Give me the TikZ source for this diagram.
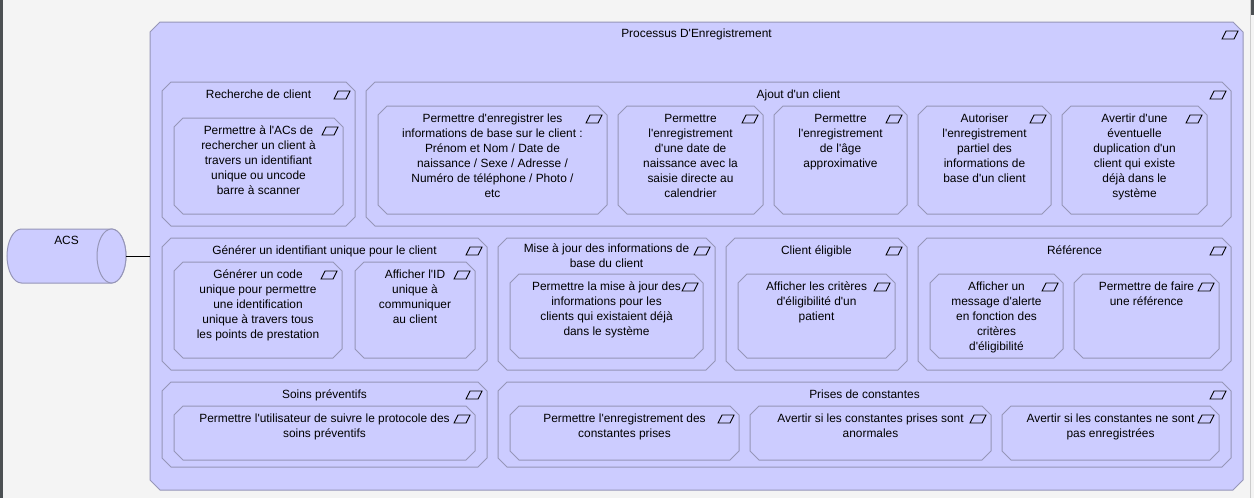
\documentclass[tikz,border=0pt]{standalone}
\usepackage{fontspec}
\newfontfamily\lib{Liberation Sans}
\definecolor{lav}{RGB}{204,204,255}
\definecolor{bord}{RGB}{150,150,184}
\definecolor{bgc}{RGB}{244,244,244}
\definecolor{darkbar}{RGB}{76,80,83}
\definecolor{sbline}{RGB}{205,205,205}
\tikzset{
  boxnode/.style={inner sep=0pt, outer sep=0pt},
  boxline/.style={draw=bord, fill=lav, line width=1pt},
  icon/.style={draw=black, line width=0.9pt},
  txt/.style={font=\lib\fontsize{11.9}{15}\selectfont, align=center, inner sep=0pt, anchor=north, text=black, execute at begin node={\rule{0pt}{11pt}}},
  conn/.style={draw=black, line width=1pt}
}
% name, x1, y1, x2, y2, chamfer
\newcommand\cbox[6]{%
  \node[boxnode, minimum width={#4-#2}, minimum height={#5-#3}] (#1) at ({(#2+#4)/2},{(#3+#5)/2}) {};
  \draw[boxline] ([xshift=#6pt]#1.north west) -- ([xshift=-#6pt]#1.north east) -- ([yshift=-#6pt]#1.north east)
    -- ([yshift=#6pt]#1.south east) -- ([xshift=-#6pt]#1.south east) -- ([xshift=#6pt]#1.south west)
    -- ([yshift=#6pt]#1.south west) -- ([yshift=-#6pt]#1.north west) -- cycle;
  \draw[icon] ([shift={(-17,9)}]#1.north east) -- ([shift={(-5,9)}]#1.north east)
    -- ([shift={(-9,17)}]#1.north east) -- ([shift={(-21,17)}]#1.north east) -- cycle;
}
\begin{document}
\begin{tikzpicture}[x=1pt,y=-1pt]
\useasboundingbox (0,0) rectangle (1254,498);
\fill[bgc] (0,0) rectangle (1254,498);
\fill[darkbar] (0,0) rectangle (3,498);
\draw[sbline, line width=1pt] (1250,0) -- (1250,498);
\fill[darkbar] (1251,0) rectangle (1254,15);

% ACS cylinder
\node[boxnode, minimum width=119, minimum height=54] (acs) at (66.5,256) {};
\draw[boxline] ([xshift=14.5pt]acs.north west) -- ([xshift=-14.5pt]acs.north east)
  arc[start angle=90, end angle=-90, x radius=14.5pt, y radius=27pt]
  -- ([xshift=14.5pt]acs.south west)
  arc[start angle=270, end angle=90, x radius=14.5pt, y radius=27pt] -- cycle;
\draw[boxline] ([xshift=-14.5pt]acs.east) ellipse[x radius=14.5pt, y radius=27pt];
\node[txt] (acst) at ([yshift=-4pt]acs.north) {ACS};

% main box
\cbox{main}{150}{22}{1243}{490}{10}
\node[txt] (maint) at ([yshift=-4pt]main.north) {Processus D'Enregistrement};
\draw[conn] (acs.east) -- (main.west);

% Row 1
\cbox{g1}{162}{82}{355}{226}{9}
\node[txt] (g1t) at ([yshift=-5pt]g1.north) {Recherche de client};
\cbox{i11}{174}{118}{343}{214}{9}
\node[txt] (i11t) at ([yshift=-8pt]i11.north) {Permettre à l'ACs de\\rechercher un client à\\travers un identifiant\\unique ou uncode\\barre à scanner};

\cbox{g2}{366}{82}{1231}{226}{9}
\node[txt] (g2t) at ([yshift=-5pt]g2.north) {Ajout d'un client};
\cbox{i21}{378}{106}{607}{214}{9}
\node[txt] (i21t) at ([yshift=-8pt]i21.north) {Permettre d'enregistrer les\\informations de base sur le client :\\Prénom et Nom / Date de\\naissance / Sexe / Adresse /\\Numéro de téléphone / Photo /\\etc};
\cbox{i22}{618}{106}{763}{214}{9}
\node[txt] (i22t) at ([yshift=-8pt]i22.north) {Permettre\\l'enregistrement\\d'une date de\\naissance avec la\\saisie directe au\\calendrier};
\cbox{i23}{774}{106}{907}{214}{9}
\node[txt] (i23t) at ([yshift=-8pt]i23.north) {Permettre\\l'enregistrement\\de l'âge\\approximative};
\cbox{i24}{918}{106}{1051}{214}{9}
\node[txt] (i24t) at ([yshift=-8pt]i24.north) {Autoriser\\l'enregistrement\\partiel des\\informations de\\base d'un client};
\cbox{i25}{1062}{106}{1207}{214}{9}
\node[txt] (i25t) at ([yshift=-8pt]i25.north) {Avertir d'une\\éventuelle\\duplication d'un\\client qui existe\\déjà dans le\\système};

% Row 2
\cbox{g3}{162}{238}{487}{370}{9}
\node[txt] (g3t) at ([yshift=-5pt]g3.north) {Générer un identifiant unique pour le client};
\cbox{i31}{174}{262}{342}{358}{9}
\node[txt] (i31t) at ([yshift=-8pt]i31.north) {Générer un code\\unique pour permettre\\une identification\\unique à travers tous\\les points de prestation};
\cbox{i32}{355}{262}{475}{358}{9}
\node[txt] (i32t) at ([yshift=-8pt]i32.north) {Afficher l'ID\\unique à\\communiquer\\au client};

\cbox{g4}{498}{238}{715}{370}{9}
\node[txt] (g4t) at ([yshift=-6pt]g4.north) {Mise à jour des informations de\\base du client};
\cbox{i41}{510}{274}{703}{358}{9}
\node[txt] (i41t) at ([yshift=-8pt]i41.north) {Permettre la mise à jour des\\informations pour les\\clients qui existaient déjà\\dans le système};

\cbox{g5}{726}{238}{907}{370}{9}
\node[txt] (g5t) at ([yshift=-5pt]g5.north) {Client éligible};
\cbox{i51}{738}{274}{895}{358}{9}
\node[txt] (i51t) at ([yshift=-8pt]i51.north) {Afficher les critères\\d'éligibilité d'un\\patient};

\cbox{g6}{918}{238}{1231}{370}{9}
\node[txt] (g6t) at ([yshift=-5pt]g6.north) {Référence};
\cbox{i61}{930}{274}{1063}{358}{9}
\node[txt] (i61t) at ([yshift=-8pt]i61.north) {Afficher un\\message d'alerte\\en fonction des\\critères\\d'éligibilité};
\cbox{i62}{1074}{274}{1219}{358}{9}
\node[txt] (i62t) at ([yshift=-8pt]i62.north) {Permettre de faire\\une référence};

% Row 3
\cbox{g7}{162}{382}{487}{467}{9}
\node[txt] (g7t) at ([yshift=-5pt]g7.north) {Soins préventifs};
\cbox{i71}{174}{406}{475}{460}{9}
\node[txt] (i71t) at ([yshift=-8pt]i71.north) {Permettre l'utilisateur de suivre le protocole des\\soins préventifs};

\cbox{g8}{498}{382}{1231}{467}{9}
\node[txt] (g8t) at ([yshift=-5pt]g8.north) {Prises de constantes};
\cbox{i81}{510}{406}{739}{460}{9}
\node[txt] (i81t) at ([yshift=-8pt]i81.north) {Permettre l'enregistrement des\\constantes prises};
\cbox{i82}{750}{406}{991}{460}{9}
\node[txt] (i82t) at ([yshift=-8pt]i82.north) {Avertir si les constantes prises sont\\anormales};
\cbox{i83}{1002}{406}{1219}{460}{9}
\node[txt] (i83t) at ([yshift=-8pt]i83.north) {Avertir si les constantes ne sont\\pas enregistrées};
\end{tikzpicture}
\end{document}
